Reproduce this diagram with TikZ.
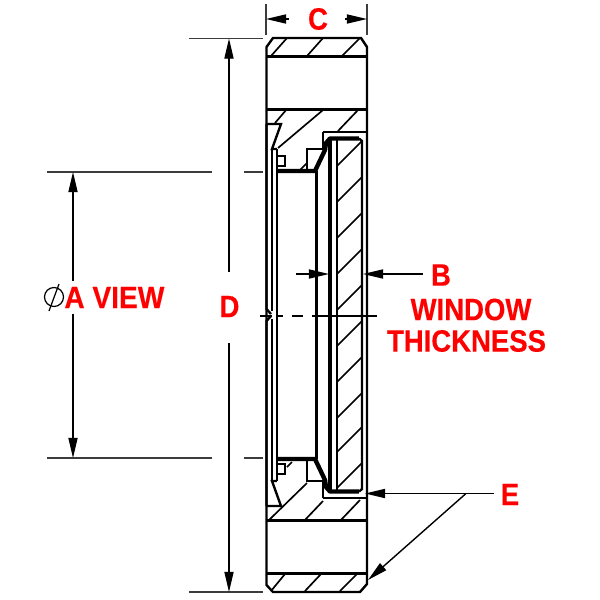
\documentclass[tikz,border=0pt]{standalone}
\usepackage{graphicx}
\usepackage{fontspec}
\setmainfont{Liberation Sans}
\newfontfamily\labfont[BoldFeatures={FakeBold=0.35}]{Liberation Sans}
\usetikzlibrary{arrows.meta}
\definecolor{labred}{RGB}{255,0,0}
\definecolor{dimgray}{RGB}{60,60,60}
\tikzset{
  part/.style={line width=1.35pt,line join=miter},
  heavy/.style={line width=2.5pt,line join=round},
  hatchline/.style={line width=.95pt},
  dimline/.style={line width=.8pt,color=black},
  extline/.style={line width=.85pt,color=dimgray},
  tip/.style={-{Triangle[length=11.5pt,width=5.2pt]}},
  lab/.style={text=labred,font=\fontsize{17.6}{18}\labfont\bfseries\selectfont,inner sep=0pt},
}
\newcommand{\narrow}[1]{\scalebox{.89}[1]{#1}}
\newcommand{\upperhalf}{%
  \draw[part] (266.5,124)--(281,124)--(272,149)--(277,149);
  \draw[part] (272,149)--(272,311);
  \draw[part] (266.5,124)--(266.5,309)--(271,314);
  \draw[part] (277,149)--(277,316);
  \draw[part] (277,156)--(285,156)--(285,166)--(277,166);
  \draw[part] (323,132)--(367,132);
  \draw[part] (323,132)--(323,149)--(307,149)--(307,171);
  \draw[part] (316.5,171)--(316.5,316);
  \draw[part] (337,138.5)--(337,316);
  \draw[part] (359,138.5)--(362,141)--(362,316);
  \draw[heavy] (277,171)--(315,171)--(325,150)--(326,143)--(330,138.5)--(359,138.5);
  \draw[line width=2.6pt] (330,138.5)--(330,316);
}
\begin{document}
\begin{tikzpicture}[x=0.02cm,y=-0.02cm]
\useasboundingbox (0,0) rectangle (600,600);
\fill[white] (0,0) rectangle (600,600);
% named reference points
\coordinate (cl) at (266,19); \coordinate (cr) at (367,19);
\coordinate (cltop) at (266,4); \coordinate (clbot) at (266,35);
\coordinate (crtop) at (367,4); \coordinate (crbot) at (367,35);
\coordinate (dtop) at (229,38.5); \coordinate (dbot) at (229,592);
\coordinate (atop) at (73,172); \coordinate (abot) at (73,458);
% outer body
\draw[part] (273,38)--(361,38)--(367,47)--(367,584)--(360,592)--(273,592)--(266.5,585)--(266.5,47)--cycle;
\foreach \yy in {56.5,109.5,520.5,573.5} \draw[part] (266.5,\yy)--(367,\yy);
\upperhalf
\begin{scope}[shift={(0,630)},yscale=-1]
\upperhalf
\end{scope}
% hatching
\foreach \a/\b/\c/\d in {271/56/287/38, 307/56/323/38, 342/56/360/38,
  275/123/287/109, 278/148/323/110, 338/131/358/110, 300/170/307/163,
  268/521/307/483, 304/521/323/501, 340/521/360/500, 287/467/292/462,
  271/591/285/574, 305/591/321/574, 340/591/357/574}
  \draw[hatchline] (\a,\b)--(\c,\d);
\foreach \yy in {166,202,238,274,310,346,382,418,452,488}
  \draw[hatchline] (337,\yy)--(362,\yy-25);
% centre line
\draw[line width=1.05pt] (260,315.7)--(272,315.7) (277,315.7)--(283,315.7) (292,315.7)--(303,315.7) (312,315.7)--(377,315.7);
% dimension C
\draw[extline] (cltop)--(clbot);
\draw[extline] (crtop)--(crbot);
\draw[dimline,tip] (289,19)--(cl);
\draw[dimline,tip] (345,19)--(cr);
\node[lab] (labelC) at (318,19) {\narrow{C}};
% dimension D
\coordinate (dext1a) at (189,38.5); \coordinate (dext1b) at (263,38.5);
\coordinate (dext2a) at (189,592); \coordinate (dext2b) at (263,592);
\draw[extline] (dext1a)--(dext1b);
\draw[extline] (dext2a)--(dext2b);
\node[lab] (labelD) at (229.5,306.5) {\narrow{D}};
\coordinate (dstop1) at (229,272); \coordinate (dstop2) at (229,343);
\draw[dimline,tip] (dstop1)--(dtop);
\draw[dimline,tip] (dstop2)--(dbot);
% dimension A
\coordinate (aext1a) at (47,172); \coordinate (aext1b) at (212,172);
\coordinate (aext1c) at (244,172); \coordinate (aext1d) at (263,172);
\coordinate (aext2a) at (47,458); \coordinate (aext2b) at (212,458);
\coordinate (aext2c) at (244,458); \coordinate (aext2d) at (263,458);
\draw[extline] (aext1a)--(aext1b) (aext1c)--(aext1d);
\draw[extline] (aext2a)--(aext2b) (aext2c)--(aext2d);
\coordinate (astop1) at (73,281); \coordinate (astop2) at (73,314);
\draw[dimline,tip] (astop1)--(atop);
\draw[dimline,tip] (astop2)--(abot);
\draw[line width=.7pt] (54,297) circle (9.5);
\draw[line width=.7pt] (59,284)--(49,311);
\node[lab,anchor=west] (labelA) at (64,297.5) {\scalebox{.91}[1]{A VIEW}};
% dimension B
\coordinate (bl) at (296,274); \coordinate (bltip) at (329,274);
\coordinate (br) at (423,274); \coordinate (brtip) at (363,274);
\draw[dimline,tip] (bl)--(bltip);
\draw[dimline,tip] (br)--(brtip);
\node[lab] (labelB) at (441,275) {\narrow{B}};
\node[lab] (labelW) at (471,309.5) {\narrow{WINDOW}};
\node[lab] (labelT) at (466.5,341) {\narrow{THICKNESS}};
% callout E
\coordinate (ea) at (494,493.5); \coordinate (eb) at (466,493.5);
\coordinate (etip1) at (365,493.5); \coordinate (etip2) at (368,580);
\draw[dimline,tip] (ea)--(etip1);
\draw[dimline,tip] (eb)--(etip2);
\node[lab] (labelE) at (510,494.5) {\narrow{E}};
\end{tikzpicture}
\end{document}
